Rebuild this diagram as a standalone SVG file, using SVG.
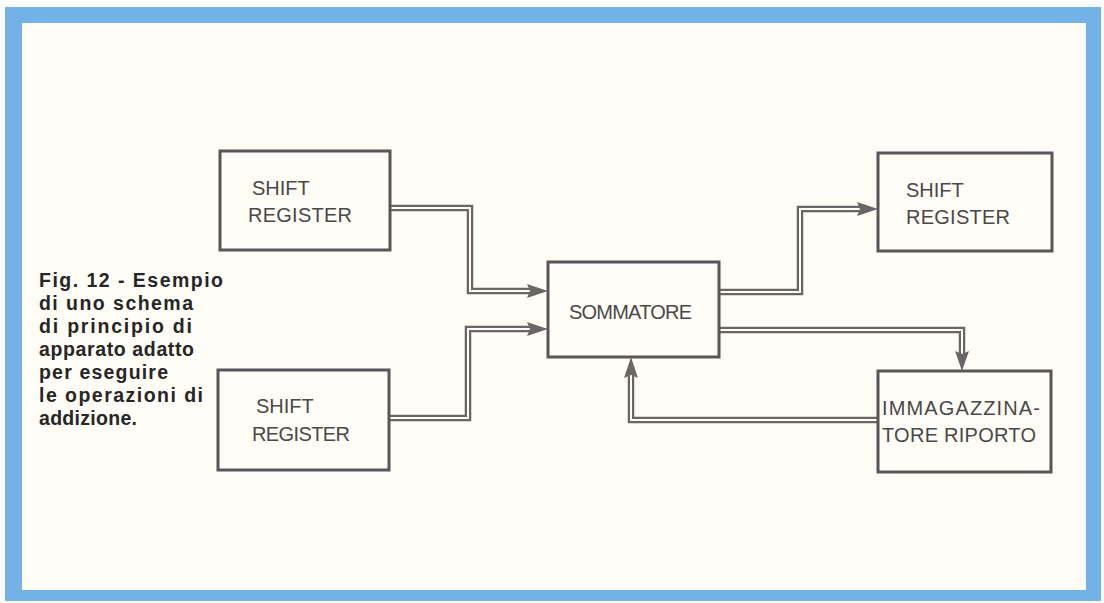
<svg xmlns="http://www.w3.org/2000/svg" width="1104" height="603" viewBox="0 0 1104 603">
<style>
.box{fill:#fffdf6;stroke:#585656;stroke-width:3}
.lbl{font-family:"Liberation Sans",Arial,sans-serif;font-size:20px;fill:#4a4848}
.cap{font-family:"Liberation Sans",Arial,sans-serif;font-size:19.5px;font-weight:bold;fill:#262626}
.wo{fill:none;stroke:#6a6666;stroke-width:6.5;stroke-linejoin:miter}
.wi{fill:none;stroke:#fffdf6;stroke-width:2}
.ah{fill:#6a6666}
</style>
<rect x="0" y="0" width="1104" height="603" fill="#fbfcfd"/>
<rect x="5" y="7" width="1096" height="594" fill="#72b2e6"/>
<rect x="22" y="23" width="1064" height="567" fill="#fffdf6"/>

<g id="caption">
<text class="cap" x="39" y="287" textLength="184" lengthAdjust="spacing">Fig. 12 - Esempio</text>
<text class="cap" x="39" y="310" textLength="154" lengthAdjust="spacing">di uno schema</text>
<text class="cap" x="39" y="333" textLength="153" lengthAdjust="spacing">di principio di</text>
<text class="cap" x="39" y="356" textLength="155" lengthAdjust="spacing">apparato adatto</text>
<text class="cap" x="39" y="379" textLength="129" lengthAdjust="spacing">per eseguire</text>
<text class="cap" x="39" y="402" textLength="164" lengthAdjust="spacing">le operazioni di</text>
<text class="cap" x="39" y="425" textLength="98" lengthAdjust="spacing">addizione.</text>
</g>

<g id="connectors">
<path class="wo" d="M390 208 H470 V291 H532"/>
<path class="wi" d="M390 208 H470 V291 H532"/>
<polygon class="ah" points="548,291 527,284 530,291 527,298"/>
<path class="wo" d="M389 418 H468 V329 H532"/>
<path class="wi" d="M389 418 H468 V329 H532"/>
<polygon class="ah" points="548,329 527,322 530,329 527,336"/>
<path class="wo" d="M719 292 H800 V209 H862"/>
<path class="wi" d="M719 292 H800 V209 H862"/>
<polygon class="ah" points="878,209 857,202 860,209 857,216"/>
<path class="wo" d="M719 330 H962 V355"/>
<path class="wi" d="M719 330 H962 V355"/>
<polygon class="ah" points="962,371 955,351 962,354 969,351"/>
<path class="wo" d="M878 420 H631 V374"/>
<path class="wi" d="M878 420 H631 V374"/>
<polygon class="ah" points="631,357 624,378 631,375 638,378"/>
</g>

<g id="shift1">
<rect class="box" x="220" y="151" width="170" height="99"/>
<text class="lbl" x="252" y="195">SHIFT</text>
<text class="lbl" x="248" y="222" textLength="104" lengthAdjust="spacing">REGISTER</text>
</g>
<g id="shift2">
<rect class="box" x="218" y="370" width="171" height="100"/>
<text class="lbl" x="256" y="413">SHIFT</text>
<text class="lbl" x="252" y="441" textLength="98" lengthAdjust="spacing">REGISTER</text>
</g>
<g id="sommatore">
<rect class="box" x="548" y="262" width="171" height="95"/>
<text class="lbl" x="569" y="319" textLength="123" lengthAdjust="spacing">SOMMATORE</text>
</g>
<g id="shift3">
<rect class="box" x="878" y="153" width="174" height="98"/>
<text class="lbl" x="906" y="197">SHIFT</text>
<text class="lbl" x="906" y="224" textLength="104" lengthAdjust="spacing">REGISTER</text>
</g>
<g id="immagazzinatore">
<rect class="box" x="878" y="371" width="173" height="101"/>
<text class="lbl" x="882" y="415" textLength="158" lengthAdjust="spacing">IMMAGAZZINA-</text>
<text class="lbl" x="882" y="442" textLength="154" lengthAdjust="spacing">TORE RIPORTO</text>
</g>
</svg>
